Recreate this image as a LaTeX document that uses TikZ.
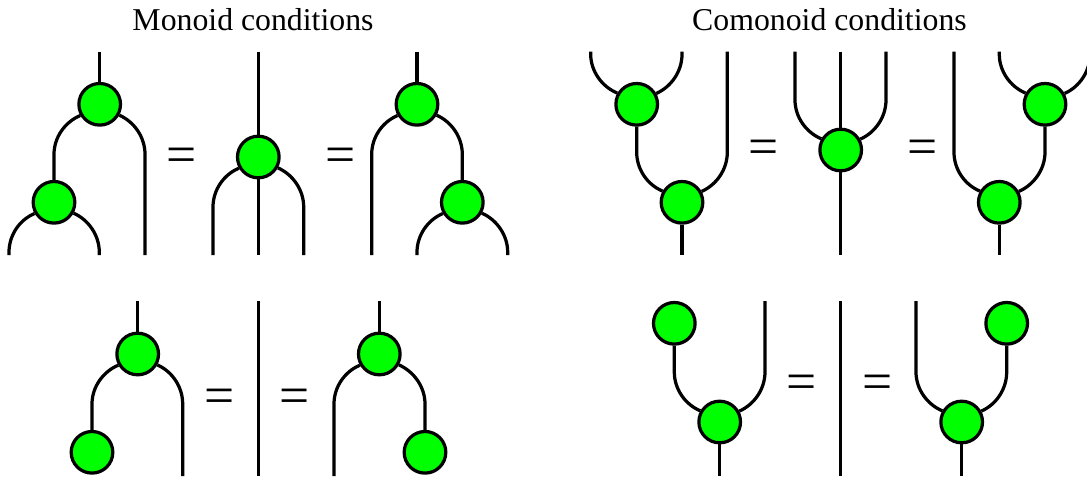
\documentclass[tikz,border=0pt]{standalone}
\usepackage{fontspec}
\setmainfont{Liberation Serif}
\usetikzlibrary{calc}
\tikzset{
  dot/.style={circle,draw=black,fill=green,line width=2.3pt,minimum size=29.6pt,inner sep=0pt},
  wire/.style={line width=2.3pt},
  heading/.style={font=\fontsize{22.6}{26}\selectfont,anchor=base},
  eqsign/.style={font=\fontsize{38}{42}\selectfont,inner sep=0pt,anchor=base}
}
% arm from a dot out to a bend, then straight on to the end given
\newcommand{\arm}[4]{
  \pgfmathsetmacro{\armangle}{atan2(-#3*12,#2*21)}
  \coordinate (bendy) at ($(#1)+(0,#3*50)$);
  \draw[wire] (#1.\armangle) .. controls ($(#1)+(#2*34.7,#3*17.6)$) and ($(bendy -| #4)+(0,#3*-17)$) .. (bendy -| #4) -- (#4);
}
\begin{document}
\begin{tikzpicture}[x=0.025cm,y=-0.025cm]
  \useasboundingbox (0,0) rectangle (1087,476);
  \node[heading] (monoidtitle) at (253,30) {Monoid conditions};
  \node[heading] (comonoidtitle) at (829.5,30) {Comonoid conditions};
  % monoid, top row
  \node[dot] (ma) at (99.7,104.3) {};
  \node[dot] (mb) at (54,202.3) {};
  \node[dot] (mc) at (258.3,157) {};
  \node[dot] (md) at (417,104.3) {};
  \node[dot] (me) at (462.3,202.3) {};
  \coordinate (maup) at (99.7,51.7);
  \coordinate (mcup) at (258.3,51.7);
  \coordinate (mdup) at (417,51.7);
  \coordinate (mbl) at (9,255);
  \coordinate (mbr) at (99.3,255);
  \coordinate (mar) at (145,255);
  \coordinate (mcl) at (213,255);
  \coordinate (mcm) at (258.3,255);
  \coordinate (mcr) at (303.7,255);
  \coordinate (mdl) at (371.7,255);
  \coordinate (mel) at (417,255);
  \coordinate (mer) at (507.7,255);
  \draw[wire] (maup) -- (ma);
  \draw[wire] (mcup) -- (mc);
  \draw[wire] (mdup) -- (md);
  \draw[wire] (mc) -- (mcm);
  \arm{ma}{-1}{1}{mb}
  \arm{ma}{1}{1}{mar}
  \arm{mb}{-1}{1}{mbl}
  \arm{mb}{1}{1}{mbr}
  \arm{mc}{-1}{1}{mcl}
  \arm{mc}{1}{1}{mcr}
  \arm{md}{-1}{1}{mdl}
  \arm{md}{1}{1}{me}
  \arm{me}{-1}{1}{mel}
  \arm{me}{1}{1}{mer}
  \node[eqsign] (meqa) at (181.5,172) {=};
  \node[eqsign] (meqb) at (340.3,172) {=};
  % comonoid, top row
  \node[dot] (ca) at (636.7,104.3) {};
  \node[dot] (cb) at (682,202.3) {};
  \node[dot] (cc) at (840.7,150) {};
  \node[dot] (cd) at (1045,104.3) {};
  \node[dot] (ce) at (999.3,202.3) {};
  \coordinate (cal) at (590.7,51.7);
  \coordinate (car) at (682,51.7);
  \coordinate (cbr) at (727.3,51.7);
  \coordinate (cbdn) at (682,255);
  \coordinate (ccl) at (795,51.7);
  \coordinate (ccm) at (840.7,51.7);
  \coordinate (ccr) at (886,51.7);
  \coordinate (ccdn) at (840.7,255);
  \coordinate (cel) at (954,51.7);
  \coordinate (cdl) at (999.3,51.7);
  \coordinate (cdr) at (1090,51.7);
  \coordinate (cedn) at (999.3,255);
  \draw[wire] (cb) -- (cbdn);
  \draw[wire] (ccm) -- (cc);
  \draw[wire] (cc) -- (ccdn);
  \draw[wire] (ce) -- (cedn);
  \arm{ca}{-1}{-1}{cal}
  \arm{ca}{1}{-1}{car}
  \arm{cb}{-1}{-1}{ca}
  \arm{cb}{1}{-1}{cbr}
  \arm{cc}{-1}{-1}{ccl}
  \arm{cc}{1}{-1}{ccr}
  \arm{cd}{-1}{-1}{cdl}
  \arm{cd}{1}{-1}{cdr}
  \arm{ce}{-1}{-1}{cel}
  \arm{ce}{1}{-1}{cd}
  \node[eqsign] (ceqa) at (763.8,164) {=};
  \node[eqsign] (ceqb) at (922.7,164) {=};
  % monoid, bottom row
  \node[dot] (ua) at (137.7,354) {};
  \node[dot] (ub) at (92,452.3) {};
  \node[dot] (uc) at (379.3,354) {};
  \node[dot] (ud) at (425,452.3) {};
  \coordinate (uaup) at (137.7,301);
  \coordinate (uar) at (182.7,476);
  \coordinate (ulineup) at (258.3,301);
  \coordinate (ulinedn) at (258.3,476);
  \coordinate (ucup) at (379.3,301);
  \coordinate (ucl) at (334,476);
  \draw[wire] (uaup) -- (ua);
  \draw[wire] (ulineup) -- (ulinedn);
  \draw[wire] (ucup) -- (uc);
  \arm{ua}{-1}{1}{ub}
  \arm{ua}{1}{1}{uar}
  \arm{uc}{-1}{1}{ucl}
  \arm{uc}{1}{1}{ud}
  \node[eqsign] (ueqa) at (219.3,413.8) {=};
  \node[eqsign] (ueqb) at (295,413.8) {=};
  % comonoid, bottom row
  \node[dot] (va) at (674.3,323.3) {};
  \node[dot] (vb) at (719.7,422) {};
  \node[dot] (vc) at (1006.7,323.3) {};
  \node[dot] (vd) at (961.7,422) {};
  \coordinate (var) at (765,301);
  \coordinate (vbdn) at (719.7,476);
  \coordinate (vlineup) at (840.7,301);
  \coordinate (vlinedn) at (840.7,476);
  \coordinate (vdl) at (916,301);
  \coordinate (vddn) at (961.7,476);
  \draw[wire] (vb) -- (vbdn);
  \draw[wire] (vlineup) -- (vlinedn);
  \draw[wire] (vd) -- (vddn);
  \arm{vb}{-1}{-1}{va}
  \arm{vb}{1}{-1}{var}
  \arm{vd}{-1}{-1}{vdl}
  \arm{vd}{1}{-1}{vc}
  \node[eqsign] (veqa) at (801.3,399) {=};
  \node[eqsign] (veqb) at (877.2,399) {=};
\end{tikzpicture}
\end{document}
